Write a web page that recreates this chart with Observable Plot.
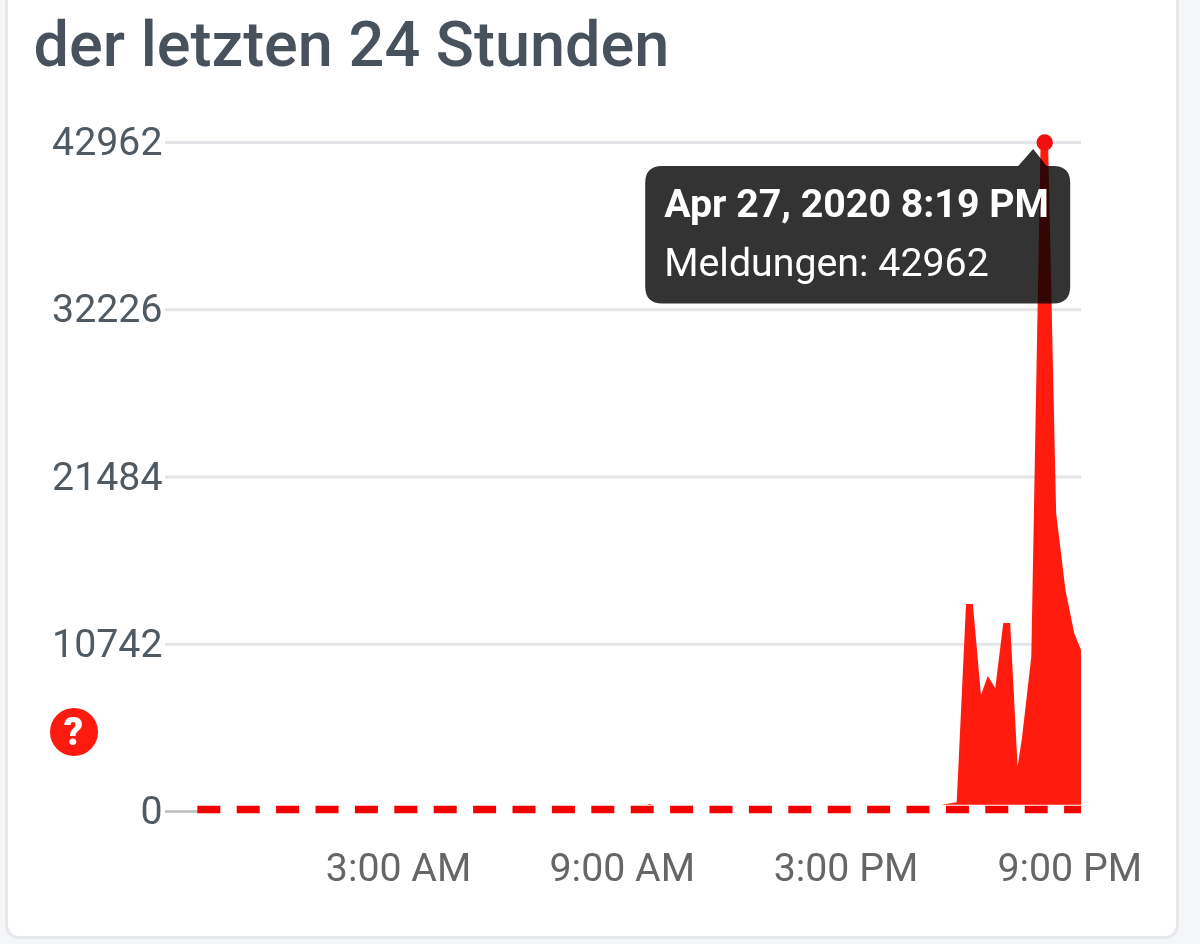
<!DOCTYPE html>
<html>
<head>
<meta charset="utf-8">
<script src="https://cdn.jsdelivr.net/npm/d3@7"></script>
<script src="https://cdn.jsdelivr.net/npm/@observablehq/plot@0.6"></script>
<style>
  html, body { margin: 0; padding: 0; background: #f5f6f7; }
  body { width: 1200px; height: 944px; overflow: hidden; position: relative; font-family: Roboto, sans-serif; }
  #card { position: absolute; left: 5px; top: -40px; width: 1168px; height: 973px; background: #fff; border: 3px solid #e6e8eb; border-radius: 14px; }
  #title { position: absolute; left: 33.5px; top: 9px; font: 500 63px Roboto, sans-serif; color: #48525c; line-height: 72px; white-space: nowrap; }
  #chart { position: absolute; left: 0; top: 90px; }
  #chart svg { display: block; overflow: visible; }
  #help { position: absolute; left: 49.5px; top: 708px; width: 48px; height: 48px; border-radius: 50%; background: #ff1a10; color: #fff; font: 900 38px/49px Roboto, sans-serif; text-align: center; }
</style>
</head>
<body>
<div id="card"></div>
<div id="title">der letzten 24 Stunden</div>
<div id="chart"></div>
<div id="help">?</div>
<script>
const times = [
  "2020-04-26T21:37Z", "2020-04-27T02:00Z", "2020-04-27T09:20Z", "2020-04-27T09:45Z", "2020-04-27T10:10Z",
  "2020-04-27T17:20Z", "2020-04-27T17:37Z", "2020-04-27T17:59Z", "2020-04-27T18:14Z", "2020-04-27T18:25Z",
  "2020-04-27T18:38Z", "2020-04-27T18:49Z", "2020-04-27T19:01Z", "2020-04-27T19:14Z", "2020-04-27T19:25Z",
  "2020-04-27T19:37Z", "2020-04-27T19:44Z", "2020-04-27T19:59Z", "2020-04-27T20:14Z", "2020-04-27T20:26Z",
  "2020-04-27T20:39Z", "2020-04-27T20:54Z", "2020-04-27T21:08Z", "2020-04-27T21:19Z"
];
const reports = [
  10, 10, 10, 470, 10,
  20, 420, 560, 13290, 13290,
  7450, 8670, 7900, 12070, 12070,
  2850, 4690, 9890, 42962, 42962,
  19140, 14190, 11430, 10340
];
const yTicks = [0, 10742, 21484, 32226, 42962];
const xTickTimes = ["2020-04-27T03:00Z", "2020-04-27T09:00Z", "2020-04-27T15:00Z", "2020-04-27T21:00Z"];
const xTickLabels = ["3:00 AM", "9:00 AM", "3:00 PM", "9:00 PM"];
const baselineValue = [125];
const peakTime = "2020-04-27T20:19Z";
const peakValue = 42962;
const tipTitle = "Apr 27, 2020 8:19 PM";
const tipBody = "Meldungen: 42962";

const rows = times.map((t, i) => ({ t: new Date(t), v: reports[i] }));
const peak = { t: new Date(peakTime), v: peakValue };
const xStart = new Date("2020-04-26T20:45Z");
const first = rows[0].t, last = rows[rows.length - 1].t;
const tickDates = xTickTimes.map(t => new Date(t));

function bubble(index, { x, y }) {
  const px = x(peak.t), py = y(peak.v);
  const L = px - 398.5, R = px + 26.5, T = py + 24, B = py + 161.5, r = 17;
  const d = `M${L + r},${T} L${px - 25.5},${T} L${px - 10.5},${py + 7} L${px + 3},${T} L${R - r},${T}
    Q${R},${T} ${R},${T + r} L${R},${B - r} Q${R},${B} ${R - r},${B} L${L + r},${B} Q${L},${B} ${L},${B - r}
    L${L},${T + r} Q${L},${T} ${L + r},${T} Z`;
  return d3.create("svg:path").attr("d", d).attr("fill", "#333").style("mix-blend-mode", "multiply").node();
}

const plot = Plot.plot({
  width: 1200,
  height: 845,
  marginLeft: 165,
  marginRight: 119,
  marginTop: 52,
  marginBottom: 124,
  style: { background: "transparent", fontFamily: "Roboto, sans-serif", overflow: "visible" },
  x: { type: "utc", domain: [xStart, last] },
  y: { domain: [0, 42962] },
  marks: [
    Plot.ruleY(yTicks.slice(1), { stroke: "#e3e5e8", strokeWidth: 3 }),
    Plot.ruleY([0], { stroke: "#b9bbbd", strokeWidth: 2.5 }),
    Plot.areaY(rows, { x: "t", y: "v", fill: "#ff1c0e", curve: "linear" }),
    Plot.ruleY(baselineValue, { x1: first, x2: last, stroke: "#fff", strokeWidth: 9.5 }),
    Plot.ruleY(baselineValue, { x1: first, x2: last, stroke: "#f40000", strokeWidth: 7.5, strokeDasharray: "23,16.4" }),
    Plot.axisY({ ticks: yTicks, tickFormat: d => String(d), tickSize: 0, tickPadding: 3, fontSize: 39.3, color: "#4f5a63", label: null }),
    Plot.axisX({ ticks: tickDates, tickFormat: d => xTickLabels[tickDates.findIndex(t => +t === +d)], tickSize: 0, tickPadding: 42, fontSize: 39.3, color: "#666", label: null }),
    bubble,
    Plot.text([peak], { x: "t", y: "v", text: () => tipTitle, dx: -380, dy: 62, textAnchor: "start", fill: "#fff", fontSize: 39.3, fontWeight: 700 }),
    Plot.text([peak], { x: "t", y: "v", text: () => tipBody, dx: -380, dy: 121, textAnchor: "start", fill: "#fff", fontSize: 39.3 }),
    Plot.dot([peak], { x: "t", y: "v", r: 8.2, dx: 0.5, fill: "#f01010" })
  ]
});
document.getElementById("chart").append(plot);
</script>
</body>
</html>
